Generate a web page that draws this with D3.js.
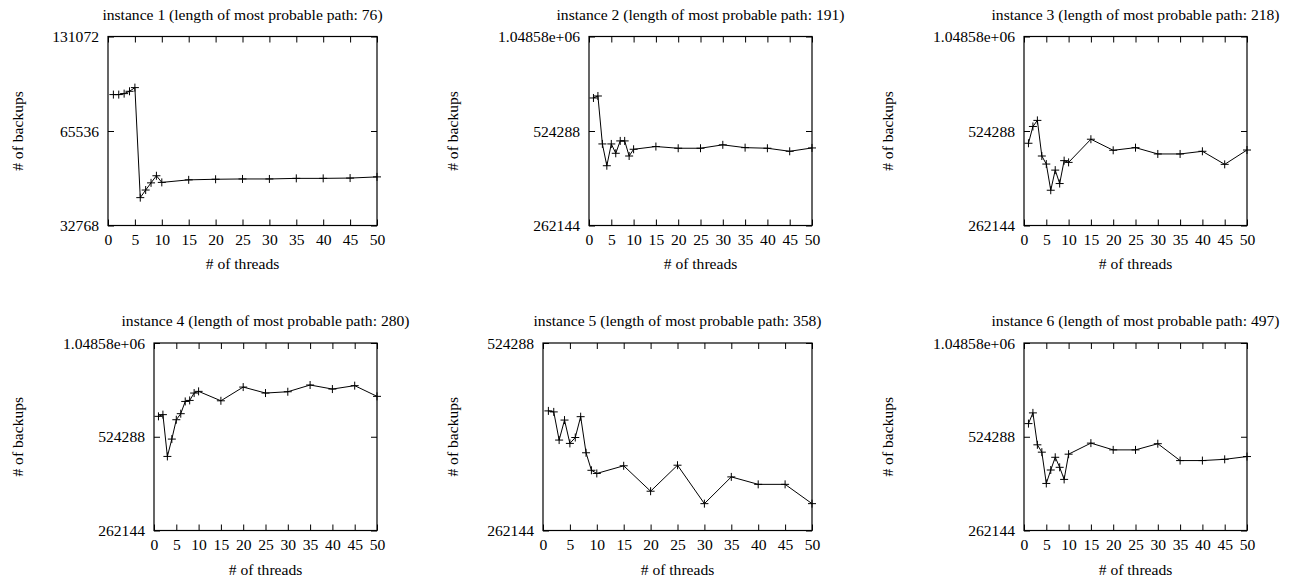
<!DOCTYPE html>
<html>
<head>
<meta charset="utf-8">
<script src="https://cdn.jsdelivr.net/npm/d3@7"></script>
<style>
  body { margin: 0; background: #fff; }
  svg text { font-family: "Liberation Serif", "Times New Roman", Times, "DejaVu Serif", serif; font-size: 15.6px; fill: #000; }
</style>
</head>
<body>
<div id="chart"></div>
<script>
var threads = [1, 2, 3, 4, 5, 6, 7, 8, 9, 10, 15, 20, 25, 30, 35, 40, 45, 50];

var backups1 = [85600, 85600, 86200, 87700, 90100, 40200, 42500, 44800, 47200, 44950, 45800, 46000, 46100, 46100, 46300, 46300, 46400, 46800];
var backups2 = [668000, 677800, 476800, 406400, 476800, 445200, 487500, 487500, 436400, 458500, 467800, 462000, 462000, 473700, 464000, 462000, 451800, 463000];
var backups3 = [479200, 542000, 566700, 436400, 411400, 339500, 393500, 356600, 421800, 416500, 493600, 455100, 464000, 443000, 443000, 451800, 410500, 456000];
var backups4 = [609600, 617400, 453300, 515300, 594600, 621800, 680700, 685900, 724200, 733300, 684000, 757000, 724200, 731300, 768600, 746000, 765000, 706800];
var backups5 = [407900, 406400, 366200, 394300, 361700, 369700, 399300, 349400, 327500, 323700, 333000, 303100, 333700, 289500, 319600, 310900, 310900, 289500];
var backups6 = [577800, 625500, 493900, 467800, 371200, 410000, 450400, 418200, 382500, 460900, 500200, 475800, 475800, 498000, 439600, 439600, 443700, 452900];

var titles = [
  "instance 1 (length of most probable path: 76)",
  "instance 2 (length of most probable path: 191)",
  "instance 3 (length of most probable path: 218)",
  "instance 4 (length of most probable path: 280)",
  "instance 5 (length of most probable path: 358)",
  "instance 6 (length of most probable path: 497)"
];

var yTicks1 = [32768, 65536, 131072];
var yTicksBig = [262144, 524288, 1048576];
var yTicks5 = [262144, 524288];
var yTickLabels = { 32768: "32768", 65536: "65536", 131072: "131072", 262144: "262144", 524288: "524288", 1048576: "1.04858e+06" };

var xTicks = [0, 5, 10, 15, 20, 25, 30, 35, 40, 45, 50];

var series = [backups1, backups2, backups3, backups4, backups5, backups6];
var yTickSets = [yTicks1, yTicksBig, yTicksBig, yTicksBig, yTicks5, yTicksBig];

// layout
var colX = [0, 435, 870];
var rows = [{ top: 36.5, bottom: 225.5, y0: 0 }, { top: 343, bottom: 530.5, y0: 305.5 }];
var leftForLabels = { 6: 108, 11: 154 };
var plotRight = 377;
var tick = 6;
var serif = "'Liberation Serif', 'Times New Roman', Times, 'DejaVu Serif', serif";

var svg = d3.select("#chart")
  .append("svg")
  .attr("width", 1291)
  .attr("height", 580)
  .attr("font-family", serif)
  .attr("font-size", "15.6px");

series.forEach(function(values, i) {
  var col = i % 3;
  var row = rows[Math.floor(i / 3)];
  var ticks = yTickSets[i];
  var longest = d3.max(ticks, d => yTickLabels[d].length);
  var left = colX[col] + leftForLabels[longest];
  var right = colX[col] + plotRight;

  var x = d3.scaleLinear().domain([0, 50]).range([left, right]);
  var y = d3.scaleLog().base(2)
    .domain([ticks[0], ticks[ticks.length - 1]])
    .range([row.bottom, row.top]);

  var g = svg.append("g");

  g.append("g")
    .attr("transform", `translate(0, ${row.bottom})`)
    .call(d3.axisBottom(x).tickValues(xTicks).tickSizeInner(-tick).tickSizeOuter(0).tickPadding(8.6))
    .call(a => a.select(".domain").remove());

  g.append("g")
    .attr("transform", `translate(0, ${row.top})`)
    .call(d3.axisTop(x).tickValues(xTicks).tickSizeInner(-tick).tickSizeOuter(0).tickFormat(""))
    .call(a => a.select(".domain").remove());

  g.append("g")
    .attr("transform", `translate(${left}, 0)`)
    .call(d3.axisLeft(y).tickValues(ticks).tickSizeInner(-tick).tickSizeOuter(0).tickPadding(9)
      .tickFormat(d => yTickLabels[d]))
    .call(a => a.select(".domain").remove());

  g.append("g")
    .attr("transform", `translate(${right}, 0)`)
    .call(d3.axisRight(y).tickValues(ticks).tickSizeInner(-tick).tickSizeOuter(0).tickFormat(""))
    .call(a => a.select(".domain").remove());

  g.selectAll("g").attr("font-family", serif).attr("font-size", "15.6px");
  g.selectAll(".tick line").attr("stroke", "#000").attr("stroke-width", 1);
  g.selectAll(".tick text").attr("fill", "#000");

  g.append("rect")
    .attr("x", left)
    .attr("y", row.top)
    .attr("width", right - left)
    .attr("height", row.bottom - row.top)
    .attr("fill", "none")
    .attr("stroke", "#000")
    .attr("stroke-width", 1.2);

  var line = d3.line()
    .x((d, k) => x(threads[k]))
    .y(d => y(d));

  g.append("path")
    .datum(values)
    .attr("d", line)
    .attr("fill", "none")
    .attr("stroke", "#000")
    .attr("stroke-width", 1);

  g.selectAll(".pt")
    .data(values)
    .enter()
    .append("path")
    .attr("class", "pt")
    .attr("transform", (d, k) => `translate(${x(threads[k])}, ${y(d)})`)
    .attr("d", "M-4,0H4M0,-4V4")
    .attr("stroke", "#000")
    .attr("stroke-width", 1);

  g.append("text")
    .attr("x", (left + right) / 2)
    .attr("y", row.y0 + 20)
    .attr("text-anchor", "middle")
    .text(titles[i]);

  g.append("text")
    .attr("x", (left + right) / 2)
    .attr("y", row.y0 + 269)
    .attr("text-anchor", "middle")
    .text("# of threads");

  g.append("text")
    .attr("transform", `translate(${colX[col] + 23}, ${(row.top + row.bottom) / 2}) rotate(-90)`)
    .attr("text-anchor", "middle")
    .text("# of backups");
});
</script>
</body>
</html>
